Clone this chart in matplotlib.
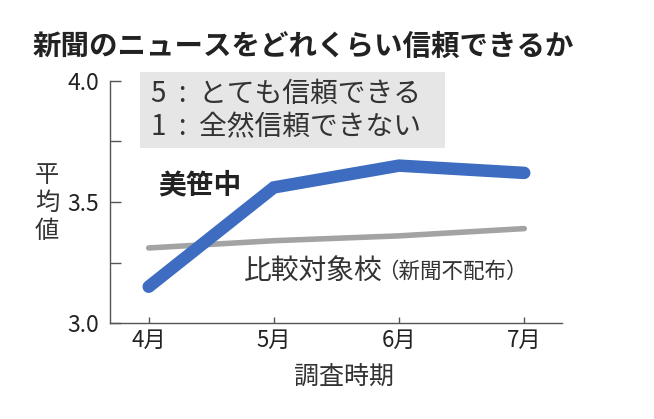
import numpy as np
import matplotlib.pyplot as plt
from matplotlib.patches import Rectangle

plt.rcParams['font.family'] = ['Noto Sans CJK JP', 'DejaVu Sans']

# data
months = ['4月', '5月', '6月', '7月']
misasa = [3.15, 3.56, 3.65, 3.62]
compare = [3.31, 3.34, 3.36, 3.39]
yticks = [3.0, 3.25, 3.5, 3.75, 4.0]
ylabels = ['3.0', '', '3.5', '', '4.0']

fig = plt.figure(figsize=(6.54, 4.19), dpi=100)
ax = fig.add_axes([0.168, 0.229, 0.691, 0.578])
x = np.arange(len(months))

ax.plot(x, compare, color='#a3a3a3', lw=4, solid_capstyle='round', zorder=2)
ax.plot(x, misasa, color='#3d6cc0', lw=9, solid_capstyle='round',
        solid_joinstyle='miter', zorder=3)

ax.set_xlim(-0.31, 3.3)
ax.set_ylim(3.0, 4.0)
ax.set_xticks(x)
ax.set_xticklabels(months, fontsize=16, color='#222222')
ax.set_yticks(yticks)
ax.set_yticklabels(ylabels, fontsize=16.5, color='#222222')
ax.tick_params(axis='y', direction='in', length=8, width=1, color='#555555', pad=8)
ax.tick_params(axis='x', direction='in', length=4, width=1, color='#555555', pad=4)
for s in ['top', 'right']:
    ax.spines[s].set_visible(False)
for s in ['left', 'bottom']:
    ax.spines[s].set_color('#555555')
    ax.spines[s].set_linewidth(1)

# note box
fig.patches.append(Rectangle((140 / 654, 1 - 148 / 419), 305 / 654, 76 / 419,
                             transform=fig.transFigure, facecolor='#e6e6e6',
                             edgecolor='none', zorder=1))
fig.text(151 / 654, 1 - 94 / 419, '5  :  とても信頼できる', fontsize=20,
         va='center', ha='left', color='#333333')
fig.text(151 / 654, 1 - 127 / 419, '1  :  全然信頼できない', fontsize=20,
         va='center', ha='left', color='#333333')

fig.text(33 / 654, 1 - 47 / 419, '新聞のニュースをどれくらい信頼できるか',
         fontsize=20.5, fontweight='bold', va='center', ha='left', color='#222222')
fig.text(47 / 654, 1 - 203 / 419, '平\n均\n値', fontsize=17.5, va='center',
         ha='center', linespacing=1.1, color='#333333')
fig.text(158 / 654, 1 - 185 / 419, '美笹中', fontsize=20, fontweight='bold',
         va='center', ha='left', color='#222222')
fig.text(244 / 654, 1 - 271 / 419, '比較対象校', fontsize=20,
         va='center', ha='left', color='#333333')
fig.text(377 / 654, 1 - 272 / 419, '（新聞不配布）', fontsize=15.5,
         va='center', ha='left', color='#333333')
fig.text(344 / 654, 1 - 377 / 419, '調査時期', fontsize=18, va='center',
         ha='center', color='#333333')

plt.savefig('out.png', dpi=100, facecolor='white')
